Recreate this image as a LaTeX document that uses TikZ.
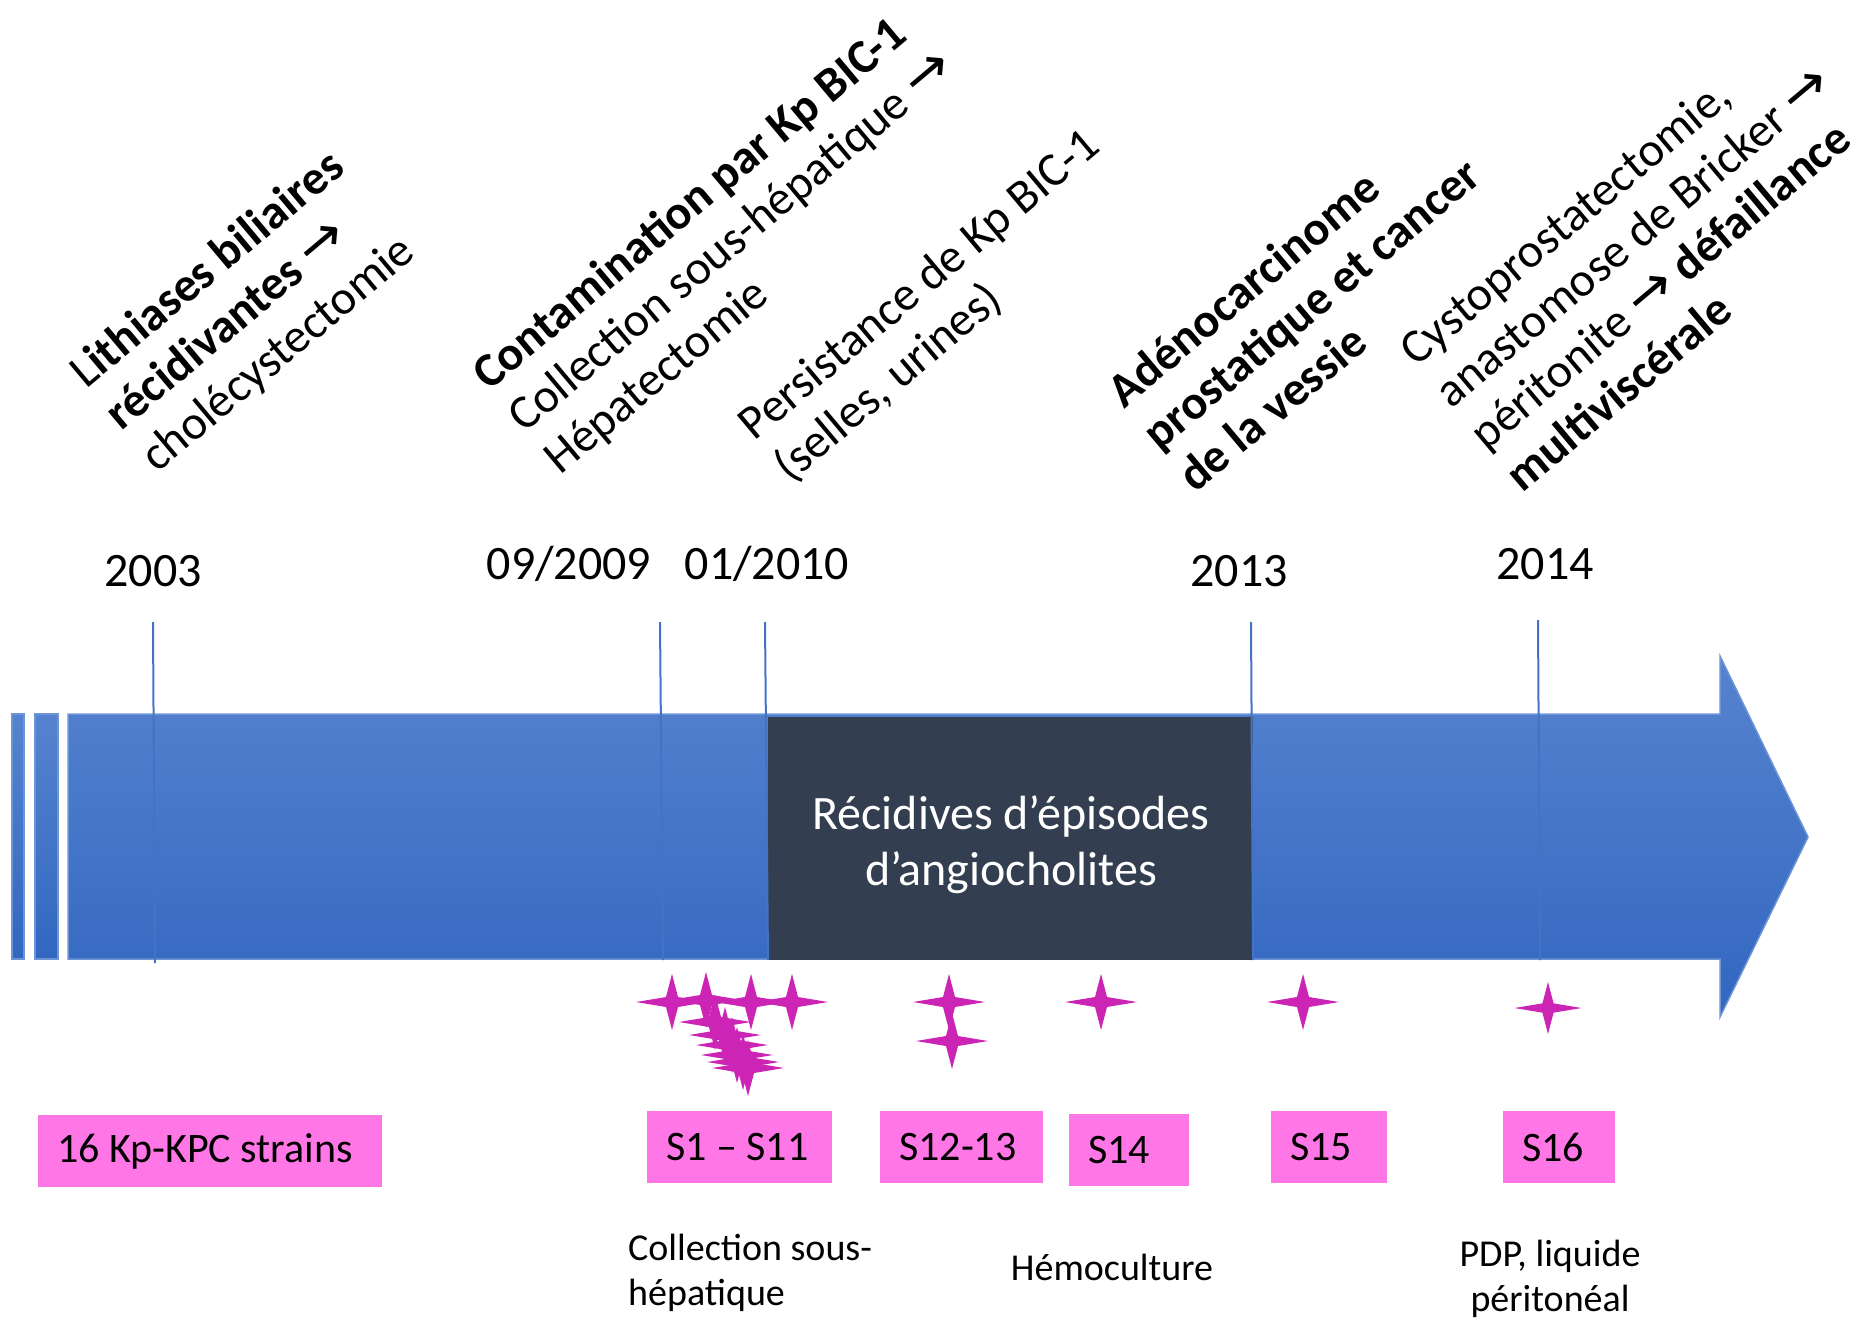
\documentclass[tikz,border=0pt]{standalone}
\usepackage{fontspec}
\setmainfont{Carlito}
\newfontfamily\arrowfont{DejaVu Sans}
\newcommand{\myarr}{{\mdseries\arrowfont\fontsize{56}{55}\selectfont →}}
\definecolor{blueTop}{RGB}{86,131,207}
\definecolor{blueBot}{RGB}{50,103,192}
\definecolor{edgecol}{RGB}{110,148,216}
\definecolor{tickcol}{RGB}{68,114,196}
\definecolor{darkcol}{RGB}{51,63,80}
\definecolor{pinkcol}{RGB}{255,119,230}
\definecolor{starcol}{RGB}{204,36,180}
\begin{document}
\begin{tikzpicture}[x=1pt,y=-1pt,
  rotlabel/.style={rotate=40, anchor=base west, align=left, inner sep=0pt, font=\fontsize{48}{55}\selectfont},
  yearlabel/.style={anchor=base, inner sep=0pt, font=\fontsize{48}{55}\selectfont},
  pinkbox/.style={fill=pinkcol, anchor=west, inner xsep=19pt, inner ysep=0pt, minimum height=72pt, font=\fontsize{42}{50}\selectfont},
  note/.style={inner sep=0pt, font=\fontsize{38}{45}\selectfont},
  tickline/.style={draw=tickcol, line width=2pt},
  bodystyle/.style={top color=blueTop, bottom color=blueBot, draw=edgecol, line width=1.5pt},
  star4/.pic={\fill[starcol] (-36,0) -- (-6,-5) -- (0,-28) -- (6,-5) -- (36,0) -- (6,5) -- (0,28) -- (-6,5) -- cycle;}
]
\useasboundingbox (0,0) rectangle (1859,1319);

% timeline arrow
\path[bodystyle] (12,714) rectangle (24,959);
\path[bodystyle] (35,714) rectangle (58,959);
\path[bodystyle] (68,714) -- (1720,714) -- (1720,656) -- (1808,837) -- (1720,1017) -- (1720,959) -- (68,959) -- cycle;

% dark period box
\node[fill=darkcol, minimum width=485pt, minimum height=243pt, inner sep=0pt] (dark) at (1010.5,838.5) {};
\node[text=white, align=center, inner sep=0pt, font=\fontsize{48}{56}\selectfont] (darktxt) at (1011,845) {Récidives d’épisodes\\d’angiocholites};

% ticks
\coordinate (t1a) at (153,622); \coordinate (t1b) at (155,963);
\coordinate (t2a) at (660,622); \coordinate (t2b) at (663,960);
\coordinate (t3a) at (765,622); \coordinate (t3b) at (768,960);
\coordinate (t4a) at (1251,622); \coordinate (t4b) at (1253,960);
\coordinate (t5a) at (1538,620); \coordinate (t5b) at (1540,960);
\draw[tickline] (t1a) -- (t1b);
\draw[tickline] (t2a) -- (t2b);
\draw[tickline] (t3a) -- (t3b);
\draw[tickline] (t4a) -- (t4b);
\draw[tickline] (t5a) -- (t5b);

% year labels
\node[yearlabel] (y2003) at (153,586) {2003};
\node[yearlabel] (y2009) at (569,579) {09/2009};
\node[yearlabel] (y2010) at (767,579) {01/2010};
\node[yearlabel] (y2013) at (1239,586) {2013};
\node[yearlabel] (y2014) at (1545,579) {2014};

% rotated event texts (anchored at the start of their last line)
\node[rotlabel] (ev1) at (157,474) {L\textbf{ithiases biliaires}\\\textbf{récidivantes} \myarr\\cholécystectomie};
\node[rotlabel] (ev2) at (560,476) {\textbf{Contamination par Kp BIC-1}\\Collection sous-hépatique \myarr\\Hépatectomie};
\node[rotlabel] (ev3) at (790,484) {Persistance de Kp BIC-1\\(selles, urines)};
\node[rotlabel] (ev4) at (1195,494) {\textbf{Adénocarcinome}\\\textbf{prostatique et cancer}\\\textbf{de la vessie}};
\node[rotlabel] (ev5) at (1522,494) {Cystoprostatectomie,\\anastomose de Bricker \myarr\\péritonite \myarr{} \textbf{défaillance}\\\textbf{multiviscérale}};

% stars
\foreach \sx/\sy in {672/1002,706/1000,751/1002,792/1002,
                     715/1022,725/1035,732/1045,737/1055,743/1062,748/1068,
                     949/1002,952/1041,1101/1002,1303/1002}
  \pic at (\sx,\sy) {star4};
\pic[scale=0.93] at (1548,1008) {star4};

% pink sample boxes
\node[pinkbox] (k0) at (38,1151) {\makebox[306pt][l]{16 Kp-KPC strains}};
\node[pinkbox] (k1) at (647,1147) {\makebox[147pt][l]{S1 – S11}};
\node[pinkbox] (k2) at (880,1147) {\makebox[125pt][l]{S12-13}};
\node[pinkbox] (k3) at (1069,1150) {\makebox[82pt][l]{S14}};
\node[pinkbox] (k4) at (1271,1147) {\makebox[78pt][l]{S15}};
\node[pinkbox] (k5) at (1503,1147) {\makebox[74pt][l]{S16}};

% notes
\node[note, anchor=base west, align=left] (n1) at (628,1305) {Collection sous-\\hépatique};
\node[note, anchor=base] (n2) at (1112,1280) {Hémoculture};
\node[note, anchor=base, align=center] (n3) at (1550,1311) {PDP, liquide\\péritonéal};
\end{tikzpicture}
\end{document}
